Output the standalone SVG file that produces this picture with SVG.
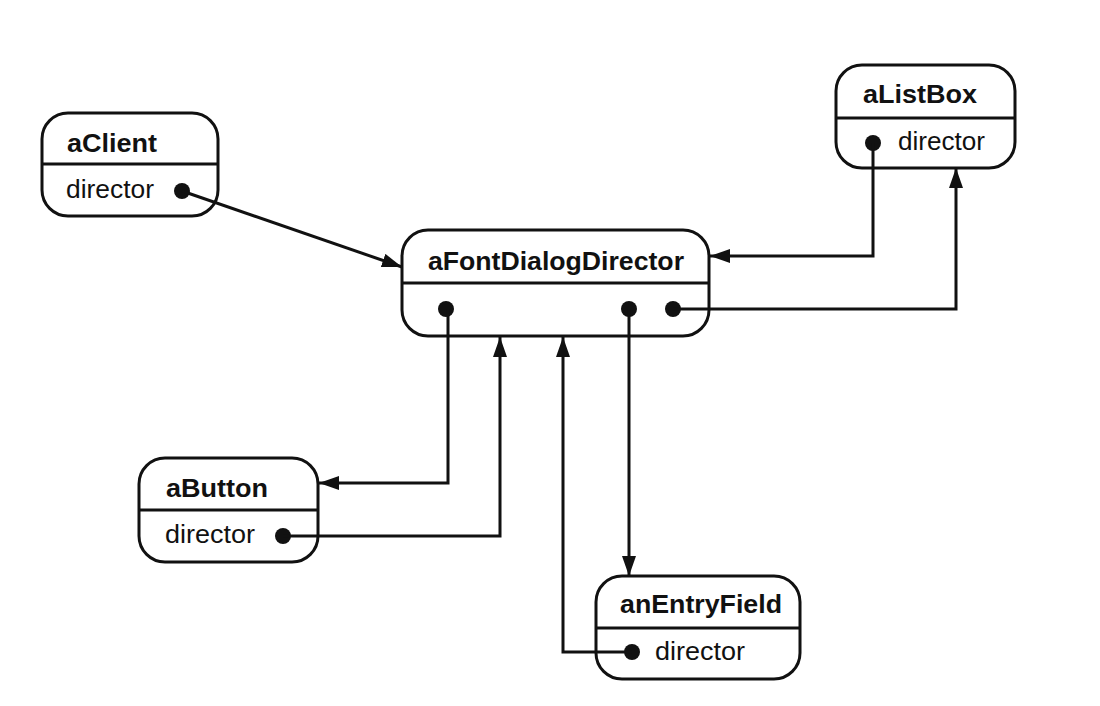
<svg xmlns="http://www.w3.org/2000/svg" width="1100" height="706" viewBox="0 0 1100 706">
<style>
.box{fill:#fff;stroke:#111;stroke-width:3}
.div{stroke:#111;stroke-width:3}
.t{font-family:"Liberation Sans",Arial,sans-serif;font-weight:bold;font-size:25px;fill:#111}
.f{font-family:"Liberation Sans",Arial,sans-serif;font-size:25px;fill:#111}
.dot{fill:#111}
.c{fill:none;stroke:#111;stroke-width:3}
</style>
<defs>
<marker id="ah" markerWidth="20" markerHeight="14" refX="20" refY="7" orient="auto" markerUnits="userSpaceOnUse">
<path d="M0,0 L20,7 L0,14 Z" fill="#111"/>
</marker>
</defs>
<rect width="1100" height="706" fill="#fff"/>
<g id="aClient">
<rect class="box" x="42" y="113" width="176" height="103" rx="26"/>
<line class="div" x1="42" y1="164" x2="218" y2="164"/>
<text class="t" x="67" y="152" textLength="90" lengthAdjust="spacingAndGlyphs">aClient</text>
<text class="f" x="66" y="198" textLength="88" lengthAdjust="spacingAndGlyphs">director</text>
<circle class="dot" cx="182" cy="191" r="8"/>
</g>
<g id="aFontDialogDirector">
<rect class="box" x="402" y="230" width="307" height="106" rx="26"/>
<line class="div" x1="402" y1="283" x2="709" y2="283"/>
<text class="t" x="428" y="270" textLength="256" lengthAdjust="spacingAndGlyphs">aFontDialogDirector</text>
<circle class="dot" cx="446" cy="309" r="8"/>
<circle class="dot" cx="629" cy="309" r="8"/>
<circle class="dot" cx="673" cy="309" r="8"/>
</g>
<g id="aListBox">
<rect class="box" x="836" y="65" width="179" height="103" rx="26"/>
<line class="div" x1="836" y1="118" x2="1015" y2="118"/>
<text class="t" x="863" y="103" textLength="114" lengthAdjust="spacingAndGlyphs">aListBox</text>
<circle class="dot" cx="873" cy="143" r="8"/>
<text class="f" x="898" y="150" textLength="87" lengthAdjust="spacingAndGlyphs">director</text>
</g>
<g id="aButton">
<rect class="box" x="139" y="458" width="179" height="104" rx="26"/>
<line class="div" x1="139" y1="510" x2="318" y2="510"/>
<text class="t" x="166" y="497" textLength="102" lengthAdjust="spacingAndGlyphs">aButton</text>
<text class="f" x="165" y="543" textLength="90" lengthAdjust="spacingAndGlyphs">director</text>
<circle class="dot" cx="283" cy="536" r="8"/>
</g>
<g id="anEntryField">
<rect class="box" x="596" y="576" width="204" height="103" rx="26"/>
<line class="div" x1="596" y1="628" x2="800" y2="628"/>
<text class="t" x="620" y="613" textLength="162" lengthAdjust="spacingAndGlyphs">anEntryField</text>
<circle class="dot" cx="632" cy="652" r="8"/>
<text class="f" x="655" y="660" textLength="90" lengthAdjust="spacingAndGlyphs">director</text>
</g>
<g id="connectors">
<path class="c" d="M182,191 L402,267" marker-end="url(#ah)"/>
<path class="c" d="M873,143 L873,256 L710,256" marker-end="url(#ah)"/>
<path class="c" d="M673,309 L956,309 L956,168" marker-end="url(#ah)"/>
<path class="c" d="M448,309 L448,483 L319,483" marker-end="url(#ah)"/>
<path class="c" d="M283,536 L500,536 L500,337" marker-end="url(#ah)"/>
<path class="c" d="M632,652 L563,652 L563,337" marker-end="url(#ah)"/>
<path class="c" d="M629,309 L629,576" marker-end="url(#ah)"/>
</g>
</svg>
